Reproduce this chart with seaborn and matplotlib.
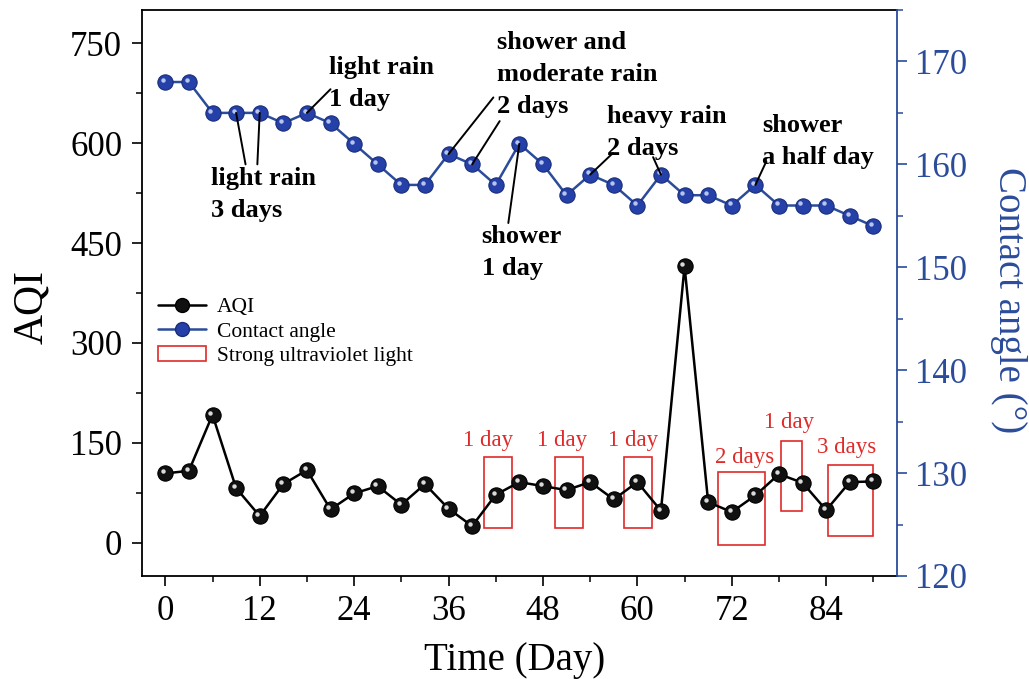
import numpy as np
import pandas as pd
import matplotlib
matplotlib.use("Agg")
import matplotlib.pyplot as plt
import matplotlib.transforms as mtransforms
from matplotlib.lines import Line2D
from matplotlib.patches import Rectangle
import seaborn as sns

# ---------------- data ----------------
days = [0, 3, 6, 9, 12, 15, 18, 21, 24, 27, 30, 33, 36, 39, 42, 45,
        48, 51, 54, 57, 60, 63, 66, 69, 72, 75, 78, 81, 84, 87, 90]
aqi = [104, 108, 192, 82, 40, 88, 109, 50, 74, 85, 57, 88, 51, 25, 72, 91,
       85, 79, 91, 65, 91, 48, 415, 61, 46, 71, 103, 90, 49, 91, 92]
contact_angle = [168, 168, 165, 165, 165, 164, 165, 164, 162, 160, 158, 158,
                 161, 160, 158, 162, 160, 157, 159, 158, 156, 159, 157, 157,
                 156, 158, 156, 156, 156, 155, 154]

# strong ultraviolet light periods: (x start, x end, AQI low, AQI high, label)
uv_x0 = [40.5, 49.5, 58.3, 70.2, 78.3, 84.2]
uv_x1 = [44.1, 53.1, 61.9, 76.2, 80.9, 90.0]
uv_lo = [22, 22, 22, -3, 47, 10]
uv_hi = [128, 128, 128, 106, 153, 116]
uv_labels = ["1 day", "1 day", "1 day", "2 days", "1 day", "3 days"]
uv_label_x = [41.0, 50.4, 59.5, 73.6, 79.3, 86.6]
uv_label_y = [153, 153, 153, 128, 180, 143]

# weather annotations (text, text x, text y, [(line start x, y, index of point)])
weather_text = ["light rain\n3 days", "light rain\n1 day",
                "shower and\nmoderate rain\n2 days", "shower\n1 day",
                "heavy rain\n2 days", "shower\na half day"]
weather_tx = [5.8, 20.8, 42.2, 40.2, 56.1, 75.9]
weather_ty = [159.7, 170.5, 173.0, 154.1, 165.8, 164.9]
weather_links = [[(10.2, 160.0, 3), (11.7, 160.0, 4)],
                 [(21.0, 167.3, 6)],
                 [(41.7, 166.5, 12), (42.5, 164.2, 13)],
                 [(43.6, 154.3, 15)],
                 [(56.9, 161.1, 18), (62.0, 160.7, 21)],
                 [(76.4, 160.3, 25)]]

df = pd.DataFrame({"day": days, "aqi": aqi, "ca": contact_angle})

# ---------------- style ----------------
sns.set_theme(style="white")
plt.rcParams["font.family"] = ["Liberation Serif", "DejaVu Serif"]
plt.rcParams["text.color"] = "black"
plt.rcParams["axes.labelcolor"] = "black"
plt.rcParams["xtick.color"] = "black"
plt.rcParams["ytick.color"] = "black"

BLUE = "#2B4C9B"
MBLUE = "#2540A8"
RED = "#E02A2A"

fig = plt.figure(figsize=(10.29, 6.79), dpi=100)
ax = fig.add_axes([0.1377, 0.1517, 0.7340, 0.8336])
ax2 = ax.twinx()

# AQI series
sns.lineplot(data=df, x="day", y="aqi", ax=ax, color="black", lw=1.8,
             marker="o", markersize=11, markerfacecolor="#111111",
             markeredgecolor="black", markeredgewidth=0.8, zorder=3)
# contact angle series
sns.lineplot(data=df, x="day", y="ca", ax=ax2, color=BLUE, lw=1.8,
             marker="o", markersize=11, markerfacecolor=MBLUE,
             markeredgecolor="#1A2E78", markeredgewidth=0.8, zorder=3)

# sphere highlights
hl1 = mtransforms.offset_copy(ax.transData, fig=fig, x=-1.6, y=1.6, units="points")
ax.plot(days, aqi, ls="none", marker="o", ms=3.2, mfc="white", mec="none",
        alpha=0.85, transform=hl1, zorder=4)
hl2 = mtransforms.offset_copy(ax2.transData, fig=fig, x=-1.6, y=1.6, units="points")
ax2.plot(days, contact_angle, ls="none", marker="o", ms=3.2, mfc="#C8D4F4",
         mec="none", alpha=0.9, transform=hl2, zorder=4)

# UV rectangles and labels
for x0, x1, lo, hi, lab, lx, ly in zip(uv_x0, uv_x1, uv_lo, uv_hi, uv_labels,
                                       uv_label_x, uv_label_y):
    ax.add_patch(Rectangle((x0, lo), x1 - x0, hi - lo, fill=False,
                           edgecolor=RED, lw=1.2, zorder=2))
    ax.text(lx, ly, lab, color=RED, fontsize=16.5, ha="center", va="center")

# weather annotations
for txt, tx, ty, links in zip(weather_text, weather_tx, weather_ty, weather_links):
    ax2.text(tx, ty, txt, fontsize=19, fontweight="bold", ha="left", va="top",
             linespacing=1.5, zorder=5, color="black")
    for sx, sy, idx in links:
        ax2.annotate("", xy=(days[idx], contact_angle[idx]), xytext=(sx, sy),
                     arrowprops=dict(arrowstyle="-", color="black", lw=1.4,
                                     shrinkA=0, shrinkB=0), zorder=5)

# axes limits & ticks
ax.set_xlim(-3, 93)
ax.set_ylim(-50, 800)
ax2.set_ylim(120, 175)
ax.set_xticks(np.arange(0, 85, 12))
ax.set_xticks(np.arange(0, 91, 6), minor=True)
ax.set_yticks(np.arange(0, 751, 150))
ax.set_yticks(np.arange(0, 751, 75), minor=True)
ax2.set_yticks(np.arange(120, 171, 10))
ax2.set_yticks(np.arange(120, 176, 5), minor=True)

ax.tick_params(axis="both", which="major", direction="out", length=7, width=1.2,
               labelsize=25, pad=7, colors="black", left=True, bottom=True)
ax.tick_params(axis="both", which="minor", direction="out", length=4.5, width=1.1,
               left=True, bottom=True, colors="black")
ax.tick_params(axis="y", right=False)
ax2.tick_params(axis="y", which="major", direction="out", length=7, width=1.2,
                labelsize=25, pad=6, colors=BLUE, right=True)
ax2.tick_params(axis="y", which="minor", direction="out", length=4.5, width=1.1,
                colors=BLUE, right=True)

for s in ["left", "top", "bottom"]:
    ax.spines[s].set_color("black")
    ax.spines[s].set_linewidth(1.3)
    ax2.spines[s].set_visible(False)
ax.spines["right"].set_visible(False)
ax2.spines["right"].set_color(BLUE)
ax2.spines["right"].set_linewidth(1.3)

ax.set_xlabel("Time (Day)", fontsize=28, va="center", ha="center")
ax.set_ylabel("AQI", fontsize=30, va="center", ha="center")
ax2.set_ylabel("Contact angle (°)", fontsize=28, color=BLUE, rotation=270,
               va="center", ha="center")
ax.xaxis.set_label_coords(0.494, -0.150)
ax.yaxis.set_label_coords(-0.145, 0.476)
ax2.yaxis.set_label_coords(1.147, 0.488)
ax.grid(False)
ax2.grid(False)

# legend
handles = [
    Line2D([0], [0], color="black", lw=1.8, marker="o", ms=10,
           mfc="#111111", mec="black"),
    Line2D([0], [0], color=BLUE, lw=1.8, marker="o", ms=10,
           mfc=MBLUE, mec="#1A2E78"),
    Rectangle((0, 0), 1, 1, fill=False, edgecolor=RED, lw=1.2),
]
ax.legend(handles, ["AQI", "Contact angle", "Strong ultraviolet light"],
          loc="upper left", bbox_to_anchor=(0.005, 0.515), frameon=False,
          fontsize=15.5, handlelength=2.2, handletextpad=0.5,
          labelspacing=0.2, borderaxespad=0.2)

fig.savefig("out.png", dpi=100)
